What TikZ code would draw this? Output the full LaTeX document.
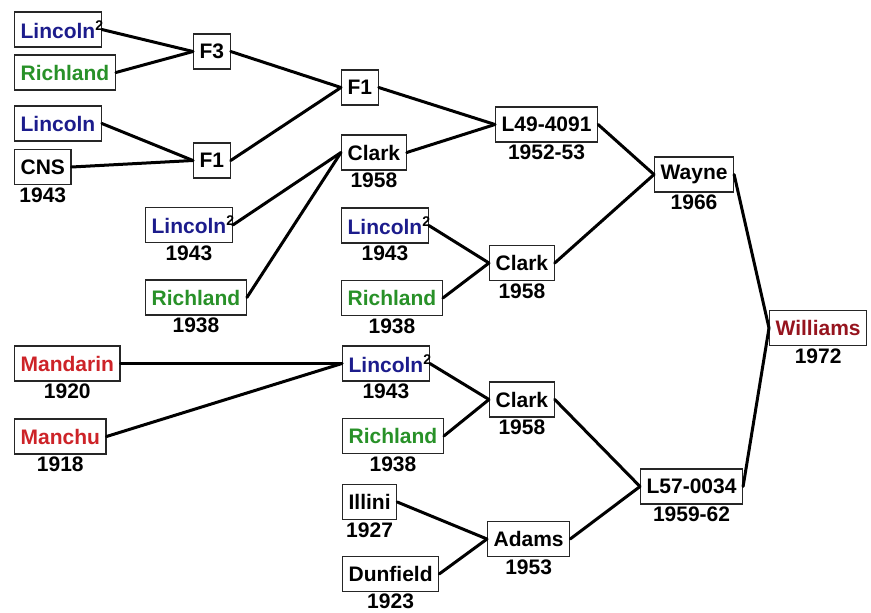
\documentclass[tikz,border=0pt]{standalone}
\usepackage{fontspec}
\setmainfont{Liberation Sans}
\usepackage{xcolor}
\usepackage{tikz}
\definecolor{lincblue}{RGB}{28,28,140}
\definecolor{richgreen}{RGB}{40,145,40}
\definecolor{mandred}{RGB}{205,35,40}
\definecolor{willred}{RGB}{150,20,30}
\tikzset{
    strain/.style={draw=black!85, line width=1.2pt, anchor=west, minimum height=35pt,
        inner xsep=6pt, inner ysep=2pt, font=\bfseries\fontsize{21}{23}\selectfont},
    year/.style={font=\bfseries\fontsize{21}{23}\selectfont, inner sep=0.5pt},
    link/.style={line width=3pt, line cap=round},
}
\newcommand{\linctwo}{Lincoln\rlap{\color{black}\raisebox{0.4em}{\fontsize{14}{14}\selectfont 2}}}

\begin{document}
\begin{tikzpicture}[x=1pt, y=-1pt, label distance=2pt]
        \useasboundingbox (0,0) rectangle (871,613);
        % leaves, left column
        \node[strain, text=lincblue] (la) at (14,29.5) {\linctwo};
        \node[strain, text=richgreen] (ra) at (14,72.5) {Richland};
        \node[strain, text=lincblue] (lb) at (14,123.5) {Lincoln};
        \node[strain, label={[year]below:1943}] (cns) at (14,167) {CNS};
        \node[strain, text=mandred, label={[year]below:1920}] (mand) at (14,363.5) {Mandarin};
        \node[strain, text=mandred, label={[year]below:1918}] (manc) at (14,436.5) {Manchu};
        \node[strain, text=lincblue, label={[year]below:1943}] (lc) at (145,225) {\linctwo};
        \node[strain, text=richgreen, label={[year]below:1938}] (rc) at (145,297.5) {Richland};
        % crosses
        \node[strain] (f3) at (193,51.5) {F3};
        \node[strain] (f1a) at (193,160.5) {F1};
        \node[strain] (f1b) at (341,87.5) {F1};
        \node[strain, label={[year]below:1958}] (clarka) at (341,152.5) {Clark};
        \node[strain, text=lincblue, label={[year]below:1943}] (ld) at (341,225.5) {\linctwo};
        \node[strain, text=richgreen, label={[year]below:1938}] (rd) at (341,298) {Richland};
        \node[strain, text=lincblue, label={[year]below:1943}] (le) at (342,363.5) {\linctwo};
        \node[strain, text=richgreen, label={[year]below:1938}] (re) at (342,436) {Richland};
        \node[strain, label={[year]below:1927}] (illini) at (342,502) {Illini};
        \node[strain, label={[year, yshift=1pt]below:1923}] (dunf) at (342,574) {Dunfield};
        \node[strain, label={[year]below:1952-53}] (l49) at (495,124.5) {L49-4091};
        \node[strain, label={[year]below:1958}] (clarkb) at (489,263) {Clark};
        \node[strain, label={[year]below:1958}] (clarkc) at (489,399.5) {Clark};
        \node[strain, label={[year]below:1953}] (adams) at (487,539) {Adams};
        \node[strain, label={[year]below:1966}] (wayne) at (654,174.5) {Wayne};
        \node[strain, label={[year]below:1959-62}] (l57) at (640,486.5) {L57-0034};
        \node[strain, text=willred, label={[year]below:1972}] (will) at (769,328) {Williams};
        % pedigree lines
        \foreach \a/\b in {la/f3, ra/f3, lb/f1a, cns/f1a, f3/f1b, f1a/f1b, f1b/l49, clarka/l49,
                lc/clarka, rc/clarka, ld/clarkb, rd/clarkb, l49/wayne, clarkb/wayne,
                wayne/will, l57/will, clarkc/l57, adams/l57, le/clarkc, re/clarkc,
                mand/le, manc/le, illini/adams, dunf/adams}
            \draw[link] (\a.east) -- (\b.west);
    \end{tikzpicture}
\end{document}
